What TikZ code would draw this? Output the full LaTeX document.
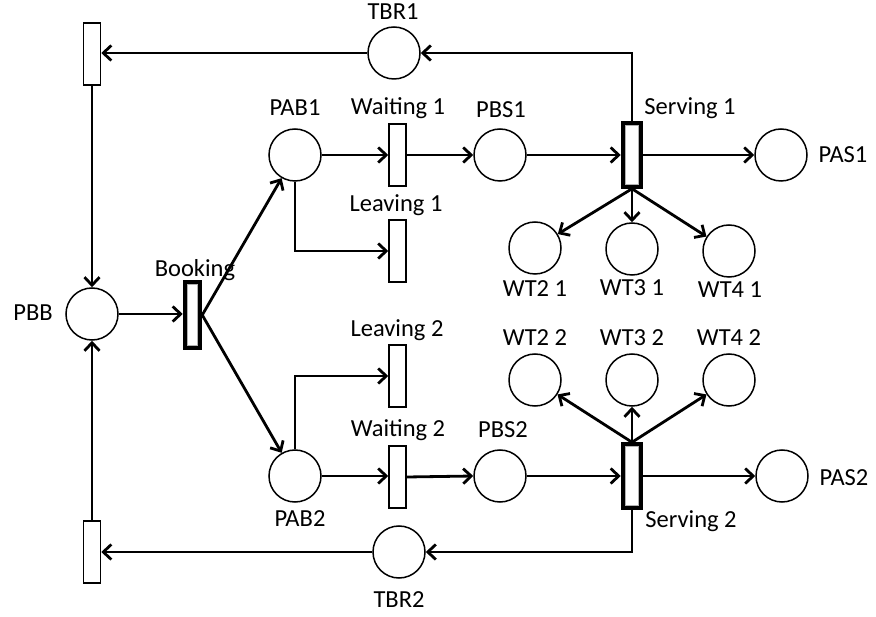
\documentclass[tikz,border=0pt]{standalone}
\usepackage{fontspec}
\setmainfont{Carlito}
\usetikzlibrary{arrows.meta}
\begin{document}
\begin{tikzpicture}[x=1pt,y=-1pt,
  every node/.style={font=\fontsize{24.5}{28}\selectfont},
  place/.style={circle,draw,line width=1.5pt,minimum size=52pt,inner sep=0pt},
  trans/.style={rectangle,draw,line width=1.5pt,minimum width=17pt,minimum height=62pt,inner sep=0pt,fill=white},
  bigtrans/.style={rectangle,draw,line width=4.5pt,minimum width=18pt,minimum height=63pt,inner sep=0pt,fill=white},
  lbl/.style={inner sep=0pt},
  arc/.style={line width=2.8pt,-{Straight Barb[length=8pt,width=15pt,line width=2.8pt]}},
]
\useasboundingbox (0,0) rectangle (876,617);
% places
\node[place] (tbr1) at (394,53) {};
\node[place] (tbr2) at (399,552) {};
\node[place] (pbb) at (92,314) {};
\node[place] (pab1) at (295,155) {};
\node[place] (pab2) at (295,476) {};
\node[place] (pbs1) at (500,155) {};
\node[place] (pbs2) at (500,476) {};
\node[place] (pas1) at (781,155) {};
\node[place] (pas2) at (782,476) {};
\node[place] (wt21) at (535,248) {};
\node[place] (wt31) at (632,249) {};
\node[place] (wt41) at (729,251) {};
\node[place] (wt22) at (535,380) {};
\node[place] (wt32) at (632,380) {};
\node[place] (wt42) at (729,380) {};
% transitions
\node[trans] (ttop) at (92,54) {};
\node[trans] (tbot) at (92,552) {};
\node[trans] (wait1) at (397.5,155) {};
\node[trans] (leave1) at (397.5,251) {};
\node[trans] (leave2) at (397.5,376) {};
\node[trans] (wait2) at (397.5,477) {};
\node[bigtrans,minimum width=15pt,minimum height=66pt] (book) at (192.5,315) {};
\node[bigtrans] (srv1) at (632,155) {};
\node[bigtrans] (srv2) at (632,476) {};
\foreach \n in {book,srv1,srv2}{
  \draw[gray!60,line width=1.2pt] ([xshift=4.6pt,yshift=-4.6pt]\n.north west) rectangle ([xshift=-4.6pt,yshift=4.6pt]\n.south east);
}
% labels
\node[lbl] (l-tbr1) at (393,12) {TBR1};
\node[lbl] (l-tbr2) at (399,600) {TBR2};
\node[lbl] (l-pab1) at (295,108) {PAB1};
\node[lbl] (l-pab2) at (300,519) {PAB2};
\node[lbl] (l-w1) at (398,108) {Waiting 1};
\node[lbl] (l-l1) at (396,205) {Leaving 1};
\node[lbl] (l-l2) at (397,330) {Leaving 2};
\node[lbl] (l-w2) at (398,430) {Waiting 2};
\node[lbl] (l-pbs1) at (501,110) {PBS1};
\node[lbl] (l-pbs2) at (503,430) {PBS2};
\node[lbl] (l-book) at (195,270) {Booking};
\node[lbl] (l-s1) at (690,108) {Serving 1};
\node[lbl] (l-s2) at (691,521) {Serving 2};
\node[lbl] (l-pbb) at (33,313) {PBB};
\node[lbl] (l-pas1) at (843,155) {PAS1};
\node[lbl] (l-pas2) at (844,478) {PAS2};
\node[lbl] (l-wt21) at (535,289) {WT2 1};
\node[lbl] (l-wt31) at (632,288) {WT3 1};
\node[lbl] (l-wt41) at (730,290) {WT4 1};
\node[lbl] (l-wt22) at (535,338) {WT2 2};
\node[lbl] (l-wt32) at (632,338) {WT3 2};
\node[lbl] (l-wt42) at (729,338) {WT4 2};
% arcs
\draw[arc] (srv1.north) |- (tbr1.east);
\draw[arc] (tbr1.west) -- (tbr1.west -| ttop.east);
\draw[arc] (ttop.south) -- (pbb.north);
\draw[arc] (srv2.south) |- (tbr2.east);
\draw[arc] (tbr2.west) -- (tbr2.west -| tbot.east);
\draw[arc] (tbot.north) -- (pbb.south);
\draw[arc] (pbb.east) -- (pbb.east -| book.west);
\draw[arc] (book.east) -- (pab1);
\draw[arc] (book.east) -- (pab2);
\draw[arc] (pab1.east) -- (pab1.east -| wait1.west);
\draw[arc] (pab1.south) |- (leave1.west);
\draw[arc] (pab2.east) -- (pab2.east -| wait2.west);
\draw[arc] (pab2.north) |- (leave2.west);
\draw[arc] (wait1.east) -- (pbs1.west);
\draw[arc] (wait2.east) -- (pbs2.west);
\draw[arc] (pbs1.east) -- (pbs1.east -| srv1.west);
\draw[arc] (pbs2.east) -- (pbs2.east -| srv2.west);
\draw[arc] (srv1.east) -- (pas1.west);
\draw[arc] (srv2.east) -- (pas2.west);
\draw[arc] (srv1.south) -- (wt21);
\draw[arc] (srv1.south) -- (wt31);
\draw[arc] (srv1.south) -- (wt41);
\draw[arc] (srv2.north) -- (wt22);
\draw[arc] (srv2.north) -- (wt32);
\draw[arc] (srv2.north) -- (wt42);
\end{tikzpicture}
\end{document}
